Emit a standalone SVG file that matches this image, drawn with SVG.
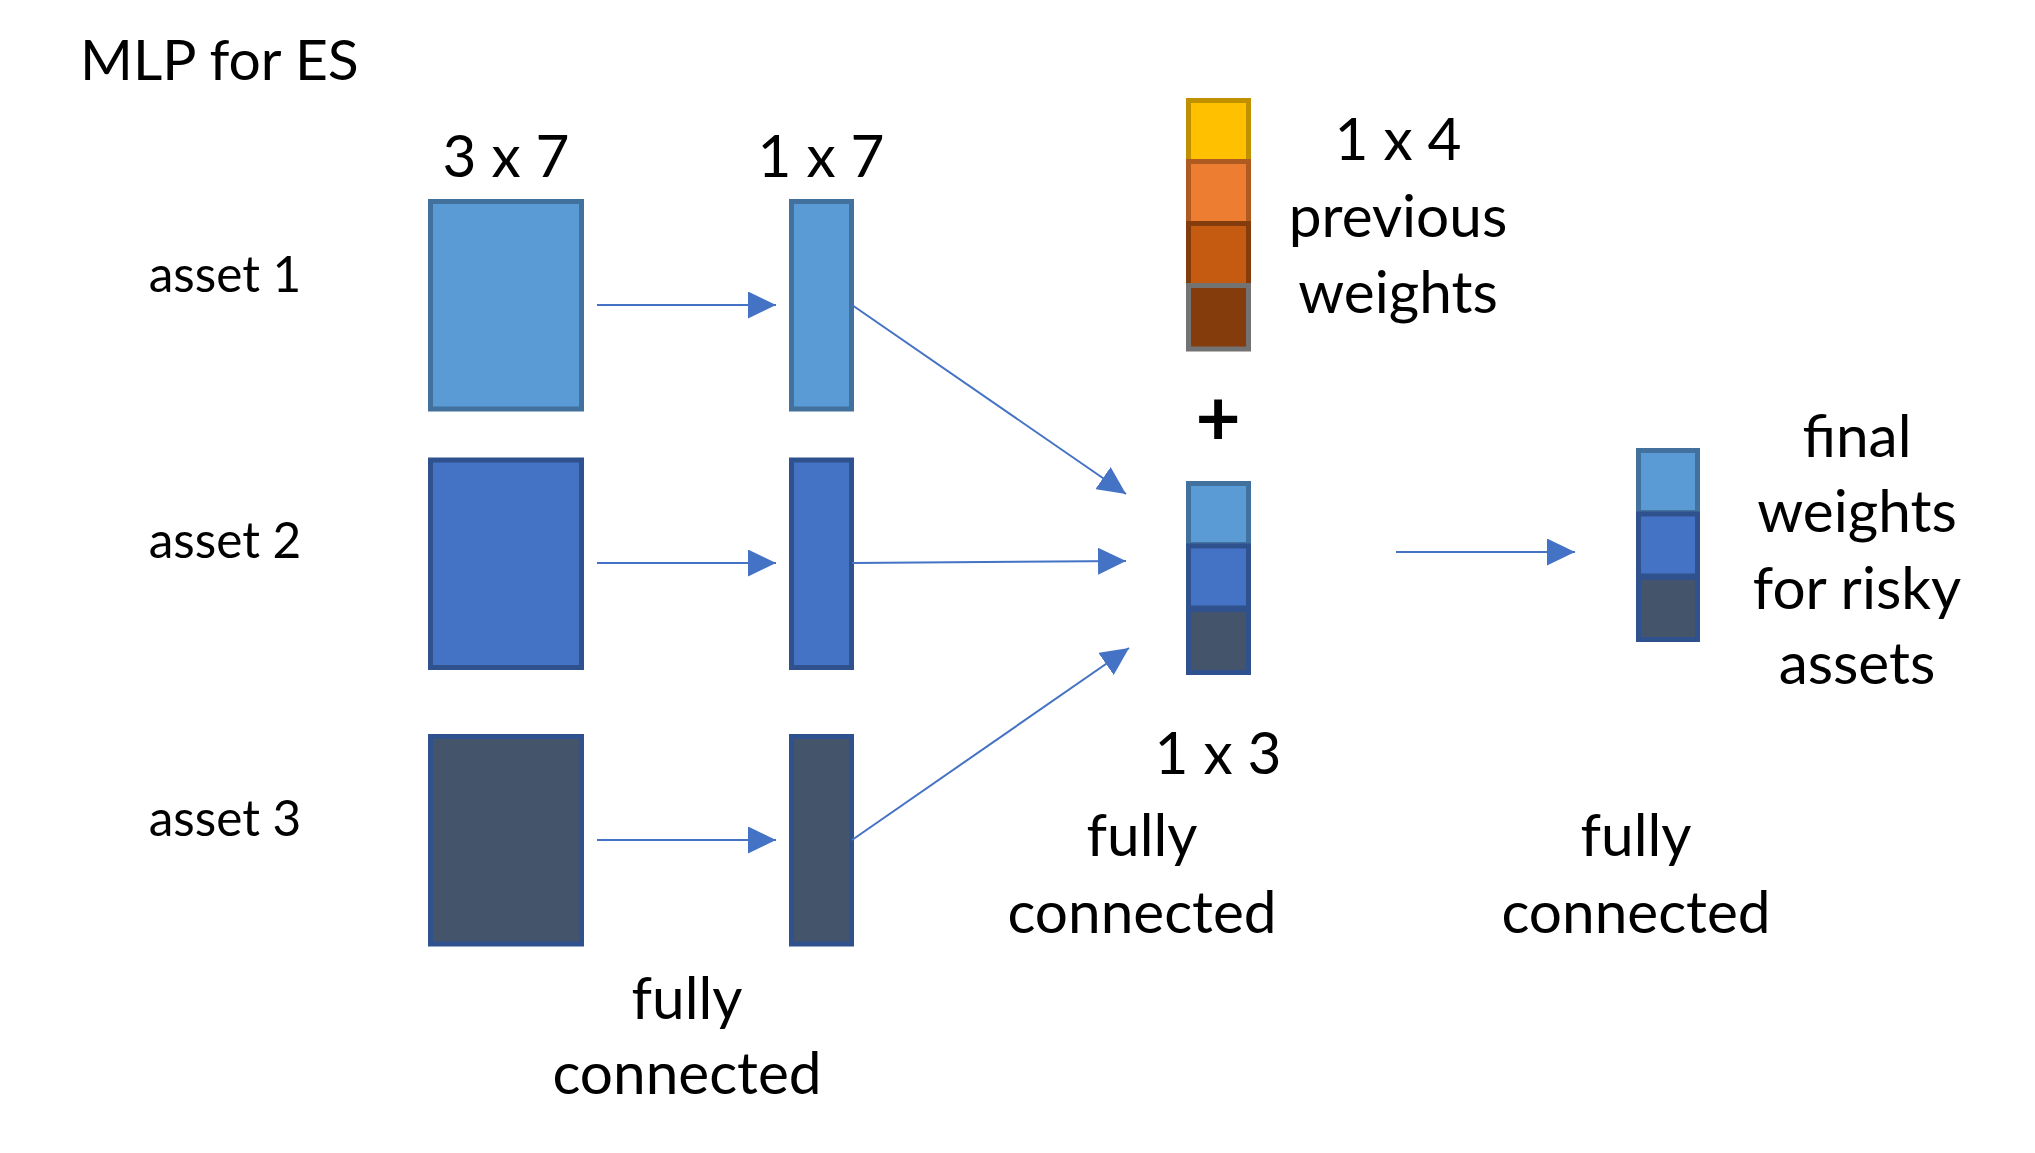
<svg xmlns="http://www.w3.org/2000/svg" width="2035" height="1153" viewBox="0 0 2035 1153">
<defs>
<style>
text{font-family:Lato,"Open Sans","Liberation Sans",sans-serif;fill:#000;text-anchor:middle}
.big{font-size:58.5px}
.title{font-size:57px;text-anchor:start}
.sm{font-size:49.5px}
.plus{font-size:78px;font-weight:bold}
.b1{fill:#5B9BD5;stroke:#41719C;stroke-width:5}
.b2{fill:#4472C4;stroke:#2F528F;stroke-width:5}
.b3{fill:#44546A;stroke:#2F528F;stroke-width:5}
.conn{stroke:#4472C4;stroke-width:2;fill:none;marker-end:url(#ah)}
</style>
<marker id="ah" viewBox="0 0 28 27" refX="28" refY="13.5" markerWidth="28" markerHeight="27" markerUnits="userSpaceOnUse" orient="auto">
<path d="M0,0 L28,13.5 L0,27 Z" fill="#4472C4"/>
</marker>
</defs>
<rect width="2035" height="1153" fill="#fff"/>
<text x="80" y="80" class="title">MLP for ES</text>

<g id="labels-assets">
<text x="225" y="292" class="sm">asset 1</text>
<text x="225" y="558" class="sm">asset 2</text>
<text x="225" y="836" class="sm">asset 3</text>
</g>

<g id="input1"><rect class="b1" x="430.5" y="201.5" width="151" height="207.5"/></g>
<g id="input2"><rect class="b2" x="430.5" y="460" width="151" height="207.5"/></g>
<g id="input3"><rect class="b3" x="430.5" y="736.5" width="151" height="207.5"/></g>
<text x="506" y="177" class="big">3 x 7</text>

<g id="hidden1"><rect class="b1" x="791.5" y="201.5" width="60" height="207.5"/></g>
<g id="hidden2"><rect class="b2" x="791.5" y="460" width="60" height="207.5"/></g>
<g id="hidden3"><rect class="b3" x="791.5" y="736.5" width="60" height="207.5"/></g>
<text x="821" y="177" class="big">1 x 7</text>

<g id="prev-weights">
<rect x="1188.5" y="100.5" width="60" height="61" fill="#FFC000" stroke="#BF9000" stroke-width="5"/>
<rect x="1188.5" y="161.5" width="60" height="62" fill="#ED7D31" stroke="#AE5A21" stroke-width="5"/>
<rect x="1188.5" y="223.5" width="60" height="62" fill="#C55A11" stroke="#843C0C" stroke-width="5"/>
<rect x="1188.5" y="285.5" width="60" height="63.5" fill="#843C0C" stroke="#737373" stroke-width="5"/>
<text x="1398" y="160" class="big">1 x 4</text>
<text x="1398" y="237" class="big">previous</text>
<text x="1398" y="313" class="big">weights</text>
</g>
<text x="1218" y="446" class="plus">+</text>

<g id="concat">
<rect class="b1" x="1188.5" y="483.5" width="60" height="61"/>
<rect class="b2" x="1188.5" y="546" width="60" height="62"/>
<rect class="b3" x="1188.5" y="609.5" width="60" height="63"/>
<text x="1218" y="774" class="big">1 x 3</text>
<text x="1142" y="856" class="big">fully</text>
<text x="1142" y="933" class="big">connected</text>
</g>

<g id="final">
<rect class="b1" x="1638.5" y="450.5" width="59" height="62"/>
<rect class="b2" x="1638.5" y="514" width="59" height="62"/>
<rect class="b3" x="1638.5" y="577.5" width="59" height="62"/>
<text x="1857" y="457" class="big">final</text>
<text x="1857" y="532" class="big">weights</text>
<text x="1857" y="609" class="big">for risky</text>
<text x="1857" y="684" class="big">assets</text>
</g>
<text x="1636" y="856" class="big">fully</text>
<text x="1636" y="933" class="big">connected</text>
<text x="687" y="1019" class="big">fully</text>
<text x="687" y="1094" class="big">connected</text>

<g id="connectors">
<line class="conn" x1="597" y1="305" x2="776" y2="305"/>
<line class="conn" x1="597" y1="563" x2="776" y2="563"/>
<line class="conn" x1="597" y1="840" x2="776" y2="840"/>
<line class="conn" x1="852" y1="305" x2="1126" y2="494"/>
<line class="conn" x1="852" y1="563" x2="1126" y2="561"/>
<line class="conn" x1="852" y1="840" x2="1129" y2="648"/>
<line class="conn" x1="1396" y1="552" x2="1575" y2="552"/>
</g>
</svg>
